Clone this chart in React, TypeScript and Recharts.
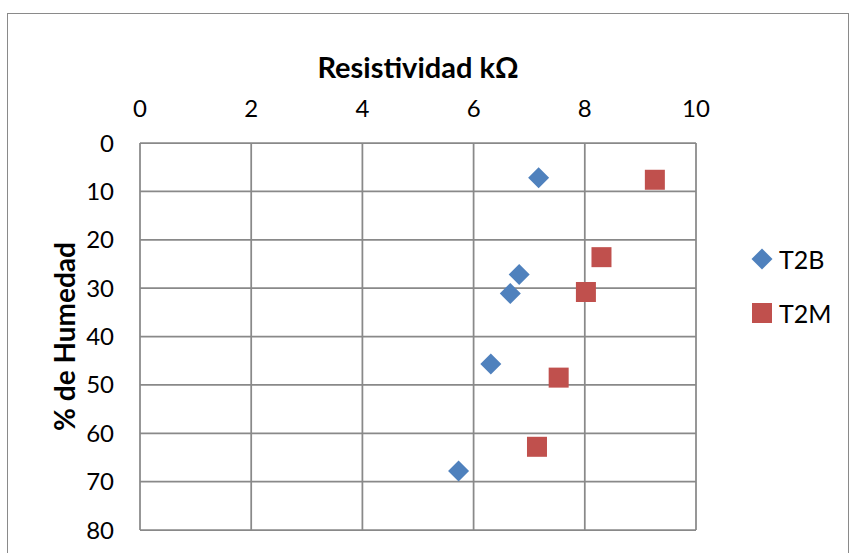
import React from "react";
import { ScatterChart, Scatter, XAxis, YAxis, CartesianGrid } from "recharts";

// Axis ticks
const resistivityTicks = [0, 2, 4, 6, 8, 10];
const humidityTicks = [0, 10, 20, 30, 40, 50, 60, 70, 80];

// Series T2B: resistivity (kΩ) vs humidity (%)
const t2bResistividad = [7.17, 6.82, 6.66, 6.31, 5.73];
const t2bHumedad = [7.2, 27.2, 31.1, 45.7, 67.8];

// Series T2M: resistivity (kΩ) vs humidity (%)
const t2mResistividad = [9.26, 8.3, 8.02, 7.53, 7.14];
const t2mHumedad = [7.6, 23.6, 30.8, 48.5, 62.8];

const BLUE = "#4F81BD";
const RED = "#C0504D";
const GRID = "#898989";
const FONT = "Lato, 'Open Sans', sans-serif";

const t2bData = t2bResistividad.map((x, i) => ({ x, y: t2bHumedad[i] }));
const t2mData = t2mResistividad.map((x, i) => ({ x, y: t2mHumedad[i] }));

const DiamondShape = (props: any) => {
  const { cx, cy } = props;
  const r = 10.5;
  return (
    <polygon
      points={`${cx},${cy - r} ${cx + r},${cy} ${cx},${cy + r} ${cx - r},${cy}`}
      fill={BLUE}
    />
  );
};

const SquareShape = (props: any) => {
  const { cx, cy } = props;
  const h = 10;
  return <rect x={cx - h} y={cy - h} width={2 * h} height={2 * h} fill={RED} />;
};

const series = [
  { name: "T2B", color: BLUE, marker: "diamond" },
  { name: "T2M", color: RED, marker: "square" },
];

const YLabel = (props: any) => {
  const { viewBox } = props;
  const cx = viewBox.x + 15;
  const cy = viewBox.y + viewBox.height / 2;
  return (
    <text
      x={cx}
      y={cy}
      transform={`rotate(-90, ${cx}, ${cy})`}
      textAnchor="middle"
      fontFamily={FONT}
      fontWeight="bold"
      fontSize={28}
      fill="#000"
    >
      % de Humedad
    </text>
  );
};

const LegendMarker = ({ marker, color }: { marker: string; color: string }) => (
  <svg width={22} height={22} style={{ display: "block" }}>
    {marker === "diamond" ? (
      <polygon points="11,0.5 21.5,11 11,21.5 0.5,11" fill={color} />
    ) : (
      <rect x={1} y={1} width={20} height={20} fill={color} />
    )}
  </svg>
);

export default function App() {
  return (
    <div style={{ position: "absolute", left: 0, top: 0, width: 851, height: 553, overflow: "hidden", background: "#fff" }}>
      <div
        style={{
          position: "absolute",
          left: 7,
          top: 13,
          width: 840,
          height: 540,
          borderLeft: "1px solid #8a8a8a",
          borderTop: "1px solid #8a8a8a",
          borderRight: "1px solid #8a8a8a",
        }}
      />
      <div style={{ position: "absolute", left: 0, top: 0 }}>
        <ScatterChart width={851} height={553} margin={{ top: 113, left: 60, right: 155, bottom: 23 }}>
          <CartesianGrid stroke={GRID} strokeWidth={1.75} />
          <XAxis
            type="number"
            dataKey="x"
            orientation="top"
            domain={[0, 10]}
            ticks={resistivityTicks}
            interval={0}
            axisLine={false}
            tickLine={false}
            tickSize={0}
            tickMargin={26}
            height={30}
            tick={{ fill: "#000", fontSize: 24, fontFamily: FONT }}
            label={{
              value: "Resistividad kΩ",
              position: "top",
              offset: 35,
              fill: "#000",
              fontSize: 29,
              fontWeight: "bold",
              fontFamily: FONT,
            }}
          />
          <YAxis
            type="number"
            dataKey="y"
            domain={[0, 80]}
            reversed
            ticks={humidityTicks}
            interval={0}
            axisLine={false}
            tickLine={false}
            tickSize={0}
            tickMargin={26}
            width={80}
            tick={{ fill: "#000", fontSize: 24, fontFamily: FONT }}
            label={<YLabel />}
          />
          <Scatter name="T2B" data={t2bData} fill={BLUE} shape={<DiamondShape />} isAnimationActive={false} />
          <Scatter name="T2M" data={t2mData} fill={RED} shape={<SquareShape />} isAnimationActive={false} />
        </ScatterChart>
      </div>
      <div style={{ position: "absolute", left: 751, top: 232, fontFamily: FONT, fontSize: 25, color: "#000" }}>
        {series.map((s) => (
          <div key={s.name} style={{ display: "flex", alignItems: "center", height: 54 }}>
            <LegendMarker marker={s.marker} color={s.color} />
            <span style={{ marginLeft: 6 }}>{s.name}</span>
          </div>
        ))}
      </div>
    </div>
  );
}
